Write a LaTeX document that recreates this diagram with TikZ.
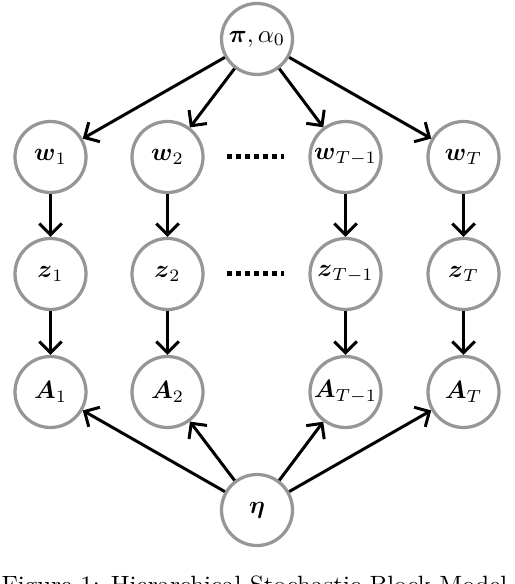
\documentclass[tikz,border=0pt]{standalone}
\usepackage{amsmath,amssymb}
\usepackage{tikz}
\usetikzlibrary{arrows.meta,positioning,calc}
\definecolor{ringc}{HTML}{969696}
\tikzset{
  var/.style={circle, draw=ringc, line width=1.3pt, fill=white, minimum size=28.4pt, inner sep=0pt},
  dep/.style={-{Straight Barb[length=4.5pt,width=9pt,line width=1.2pt]}, line width=1.2pt},
  etc/.style={line width=2pt, dash pattern=on 2pt off 1.6pt},
}
\def\cA{50.5}
\def\cB{167.5}
\def\cC{345.5}
\def\cD{463.5}
\def\cM{257}
\def\yP{39}
\def\yW{157}
\def\yZ{274}
\def\yA{392}
\def\yE{510}
\begin{document}
\begin{tikzpicture}[x=0.4pt,y=-0.4pt]
  \clip (0,0) rectangle (514,584);
  \node[var] (p) at (\cM,\yP) {$\boldsymbol{\pi},\alpha_0$};
  \node[var] (w1) at (\cA,\yW) {$\boldsymbol{w}_1$};
  \node[var] (w2) at (\cB,\yW) {$\boldsymbol{w}_2$};
  \node[var] (wS) at (\cC,\yW) {$\boldsymbol{w}_{T-1}$};
  \node[var] (wT) at (\cD,\yW) {$\boldsymbol{w}_T$};
  \node[var] (z1) at (\cA,\yZ) {$\boldsymbol{z}_1$};
  \node[var] (z2) at (\cB,\yZ) {$\boldsymbol{z}_2$};
  \node[var] (zS) at (\cC,\yZ) {$\boldsymbol{z}_{T-1}$};
  \node[var] (zT) at (\cD,\yZ) {$\boldsymbol{z}_T$};
  \node[var] (A1) at (\cA,\yA) {$\boldsymbol{A}_1$};
  \node[var] (A2) at (\cB,\yA) {$\boldsymbol{A}_2$};
  \node[var] (AS) at (\cC,\yA) {$\boldsymbol{A}_{T-1}$};
  \node[var] (AT) at (\cD,\yA) {$\boldsymbol{A}_T$};
  \node[var] (e) at (\cM,\yE) {$\boldsymbol{\eta}$};
  % dots between the second and the last but one column
  \coordinate (dwl) at (227,\yW); \coordinate (dwr) at (284,\yW);
  \coordinate (dzl) at (227,\yZ); \coordinate (dzr) at (284,\yZ);
  \draw[etc] (dwl) -- (dwr);
  \draw[etc] (dzl) -- (dzr);
  \foreach \k in {1,2,S,T} {
    \draw[dep] (p) -- (w\k);
    \draw[dep] (w\k) -- (z\k);
    \draw[dep] (z\k) -- (A\k);
    \draw[dep] (e) -- (A\k);
  }
  \node[anchor=base west, inner sep=0pt] (cap) at (1,593) {Figure 1: Hierarchical Stochastic Block Model};
\end{tikzpicture}
\end{document}
